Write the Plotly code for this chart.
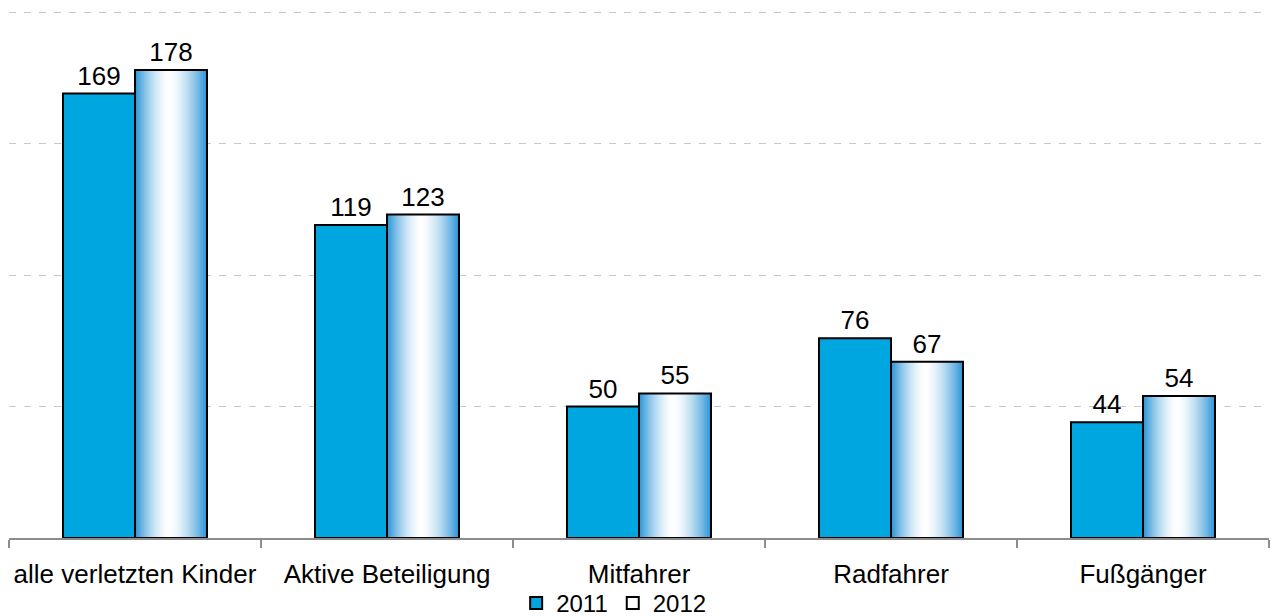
import plotly.graph_objects as go

categories = ["alle verletzten Kinder", "Aktive Beteiligung", "Mitfahrer", "Radfahrer", "Fußgänger"]
values_2011 = [169, 119, 50, 76, 44]
values_2012 = [178, 123, 55, 67, 54]
series_names = ["2011", "2012"]

FONT = "Liberation Sans, Arial, sans-serif"
BAR_W = 0.2857
BLUE = "#00a6df"
EDGE = (40, 148, 216)

fig = go.Figure()

# 2011 bars
fig.add_trace(go.Bar(
    x=categories, y=values_2011, name=series_names[0],
    offset=-BAR_W, width=BAR_W,
    marker=dict(color=BLUE, line=dict(color="black", width=2)),
    text=values_2011, textposition="outside",
    textfont=dict(size=26, color="black", family=FONT),
    cliponaxis=False,
))

# 2012 bars: horizontal cylinder-like gradient built from thin strips
N = 40
step = BAR_W / N
center = 0.47
for i in range(N):
    t = (i + 0.5) / N
    if t < center:
        d = (center - t) / center
    else:
        d = (t - center) / (1 - center)
    w = max(0.0, 1 - d ** 1.6)
    r = int(EDGE[0] + (255 - EDGE[0]) * w)
    g = int(EDGE[1] + (255 - EDGE[1]) * w)
    b = int(EDGE[2] + (255 - EDGE[2]) * w)
    wid = step * 1.8 if i < N - 1 else step
    fig.add_trace(go.Bar(
        x=categories, y=values_2012, showlegend=False, hoverinfo="skip",
        offset=i * step, width=min(wid, BAR_W - i * step),
        marker=dict(color=f"rgb({r},{g},{b})", line=dict(width=0)),
    ))

# 2012 outline + labels
fig.add_trace(go.Bar(
    x=categories, y=values_2012, name=series_names[1],
    offset=0, width=BAR_W,
    marker=dict(color="rgba(255,255,255,0)", line=dict(color="black", width=2)),
    text=values_2012, textposition="outside",
    textfont=dict(size=26, color="black", family=FONT),
    cliponaxis=False,
))

fig.update_layout(
    width=1277, height=616,
    margin=dict(l=9, r=8, t=10, b=78, autoexpand=False),
    paper_bgcolor="white", plot_bgcolor="white",
    barmode="overlay",
    font=dict(family=FONT, color="black", size=26),
    showlegend=True,
    legend=dict(
        orientation="h", x=0.4025, xanchor="left", y=-0.124, yanchor="middle",
        font=dict(size=24, family=FONT, color="black"),
        itemwidth=30, traceorder="normal", bgcolor="rgba(0,0,0,0)",
    ),
    xaxis=dict(
        type="category", tickson="boundaries", ticks="outside", ticklen=8,
        tickcolor="#8c8c8c", tickwidth=1.5, showline=True, linecolor="#8c8c8c",
        linewidth=2, showgrid=False, ticklabelstandoff=12, automargin=False,
        tickangle=0, range=[-0.5, 4.5],
        tickfont=dict(size=26, family=FONT, color="black"),
    ),
    yaxis=dict(
        range=[0, 200.8], dtick=50, showticklabels=False, showgrid=True,
        gridcolor="#c8c8c8", griddash="7px,8px", gridwidth=1, zeroline=False,
        ticks="", automargin=False,
    ),
)

fig.write_html("out.html", config={"displayModeBar": False},
               post_script="document.body.style.margin='0';")
